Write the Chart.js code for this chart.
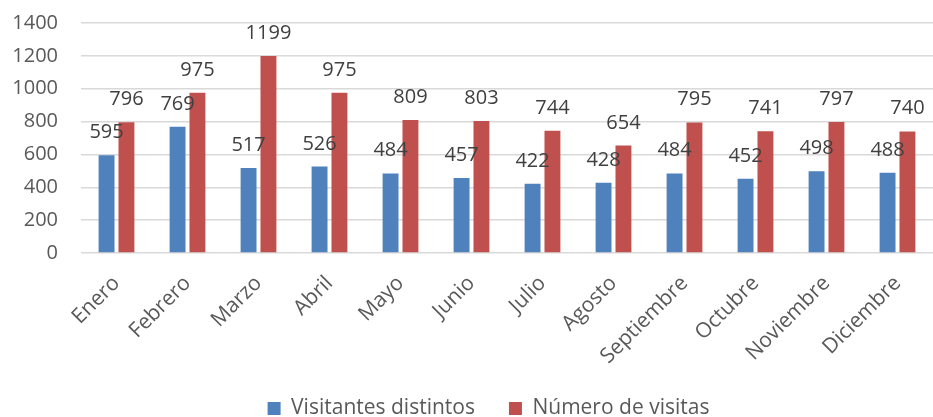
<!DOCTYPE html>
<html>
<head>
<meta charset="utf-8">
<script src="https://cdn.jsdelivr.net/npm/chart.js@4"></script>
<style>
  html, body { margin: 0; padding: 0; background: #fff; overflow: hidden; }
  #wrap { width: 933px; height: 417px; }
</style>
</head>
<body>
<div id="wrap"><canvas id="chart"></canvas></div>
<script>
const months = ['Enero', 'Febrero', 'Marzo', 'Abril', 'Mayo', 'Junio', 'Julio', 'Agosto', 'Septiembre', 'Octubre', 'Noviembre', 'Diciembre'];
const visitantes = [595, 769, 517, 526, 484, 457, 422, 428, 484, 452, 498, 488];
const visitas = [796, 975, 1199, 975, 809, 803, 744, 654, 795, 741, 797, 740];
const seriesNames = ['Visitantes distintos', 'Número de visitas'];

const FONT = "'Open Sans', sans-serif";

// etiquetas de valor encima de cada barra
const valueLabels = {
  id: 'valueLabels',
  afterDatasetsDraw(chart) {
    const c = chart.ctx;
    c.save();
    c.font = '20px ' + FONT;
    c.fillStyle = '#404040';
    c.textAlign = 'center';
    c.textBaseline = 'alphabetic';
    chart.data.datasets.forEach((ds, i) => {
      chart.getDatasetMeta(i).data.forEach((bar, j) => {
        c.fillText(ds.data[j], bar.x, bar.y - 17);
      });
    });
    c.restore();
  }
};

// la leyenda va un poco a la derecha del centro
const legendShift = {
  id: 'legendShift',
  afterLayout(chart) {
    chart.legend.left = 44;
  }
};

new Chart(document.getElementById('chart'), {
  type: 'bar',
  data: {
    labels: months,
    datasets: [
      { label: seriesNames[0], data: visitantes, backgroundColor: '#4F81BD' },
      { label: seriesNames[1], data: visitas, backgroundColor: '#C0504D' }
    ]
  },
  options: {
    responsive: true,
    maintainAspectRatio: false,
    animation: false,
    layout: { padding: { top: 23, left: 0, right: 0, bottom: 0 } },
    datasets: { bar: { categoryPercentage: 0.56, barPercentage: 0.8 } },
    plugins: {
      tooltip: { enabled: false },
      legend: {
        position: 'bottom',
        maxHeight: 53,
        labels: {
          boxWidth: 13,
          boxHeight: 13,
          padding: 34,
          color: '#595959',
          font: { family: FONT, size: 21 }
        }
      }
    },
    scales: {
      x: {
        display: true,
        grid: { display: false, drawOnChartArea: false, drawTicks: false },
        border: { display: false },
        ticks: {
          color: '#595959',
          font: { family: FONT, size: 21 },
          minRotation: 45,
          maxRotation: 45,
          padding: 18,
          autoSkip: false
        },
        afterFit(scale) {
          scale.height = 111;
          scale.paddingLeft = 0;
          scale.paddingRight = 0;
        }
      },
      y: {
        min: 0,
        max: 1400,
        grid: { color: '#d9d9d9', lineWidth: 1.5, drawTicks: false, tickLength: 0 },
        border: { display: false },
        ticks: {
          stepSize: 200,
          color: '#595959',
          font: { family: FONT, size: 20 },
          padding: 23,
          callback: v => String(v)
        },
        afterFit(scale) {
          scale.width = 81;
          scale.paddingTop = 0;
          scale.paddingBottom = 0;
        }
      }
    }
  },
  plugins: [valueLabels, legendShift]
});
</script>
</body>
</html>
